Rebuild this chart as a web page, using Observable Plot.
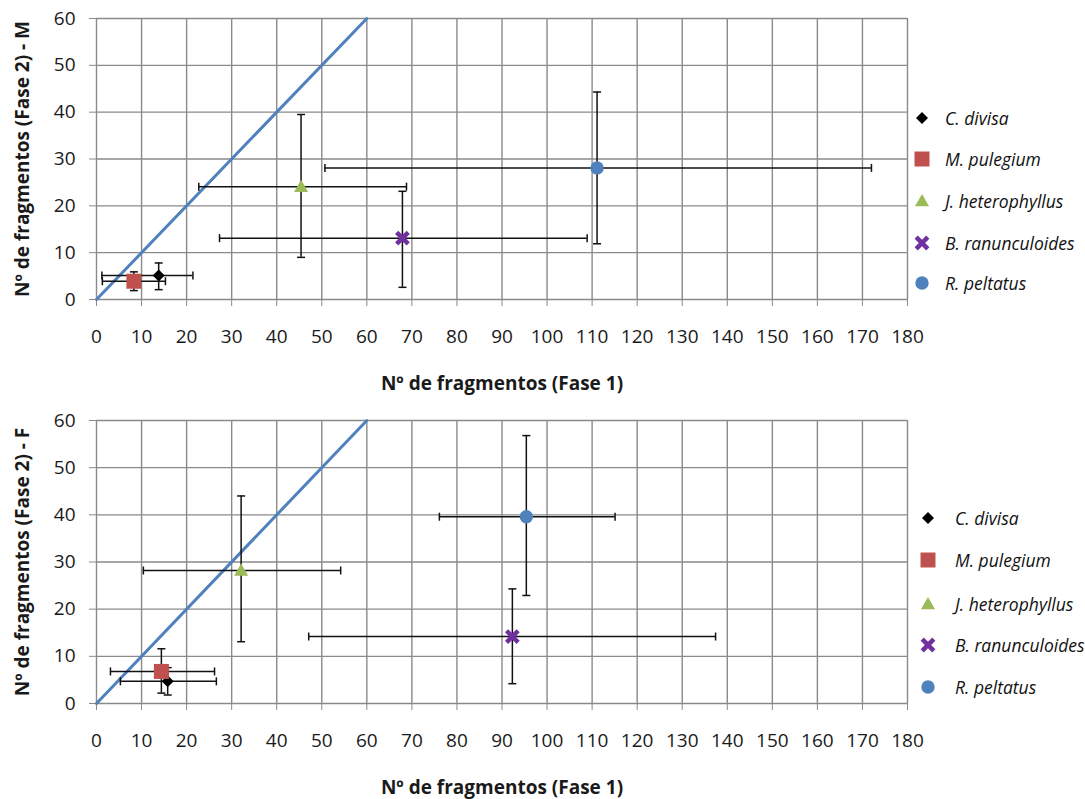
<!DOCTYPE html>
<html>
<head>
<meta charset="utf-8">
<script src="https://cdn.jsdelivr.net/npm/d3@7"></script>
<script src="https://cdn.jsdelivr.net/npm/@observablehq/plot@0.6"></script>
<style>
  html, body { margin: 0; padding: 0; background: #fff; }
  #wrap { position: relative; width: 1085px; height: 799px; overflow: hidden; font-family: "Open Sans", sans-serif; }
  .panel { position: absolute; left: 0; }
  .legend { position: absolute; font-style: italic; font-size: 17.5px; color: #111; white-space: nowrap; }
  .legend .item { position: absolute; left: 0; height: 24px; display: flex; align-items: center; }
  .legend svg { flex: none; }
</style>
</head>
<body>
<div id="wrap"></div>
<script>
// ---- data ----
const species = ["C. divisa", "M. pulegium", "J. heterophyllus", "B. ranunculoides", "R. peltatus"];
const colors = ["#000000", "#C0504D", "#9BBB59", "#7030A0", "#4F81BD"];

// Panel M (top)
const mX    = [13.8, 8.3, 45.4, 67.9, 111.1];
const mY    = [5.1, 3.9, 24.1, 13.1, 28.1];
const mXlo  = [1.2, 1.3, 22.7, 27.3, 50.7];
const mXhi  = [21.4, 15.3, 68.8, 108.9, 172.0];
const mYlo  = [2.1, 1.9, 9.0, 2.6, 11.9];
const mYhi  = [7.8, 5.9, 39.5, 23.1, 44.3];

// Panel F (bottom)
const fX    = [15.8, 14.4, 32.1, 92.3, 95.4];
const fY    = [4.7, 6.8, 28.2, 14.2, 39.6];
const fXlo  = [5.3, 3.1, 10.4, 47.1, 76.1];
const fXhi  = [26.6, 26.2, 54.2, 137.4, 115.1];
const fYlo  = [1.8, 2.2, 13.1, 4.2, 22.9];
const fYhi  = [7.6, 11.6, 44.0, 24.3, 56.8];

// 1:1 reference line
const lineX = [0, 60];
const lineY = [0, 60];

const xTicks = [0,10,20,30,40,50,60,70,80,90,100,110,120,130,140,150,160,170,180];
const yTicks = [0,10,20,30,40,50,60];
const xLabel = "Nº de fragmentos (Fase 1)";
const yLabelM = "Nº de fragmentos (Fase 2) - M";
const yLabelF = "Nº de fragmentos (Fase 2) - F";

// ---- symbols ----
const capV = { draw(ctx, size) { const r = Math.sqrt(size / Math.PI); ctx.moveTo(0, -r); ctx.lineTo(0, r); } };
const capH = { draw(ctx, size) { const r = Math.sqrt(size / Math.PI); ctx.moveTo(-r, 0); ctx.lineTo(r, 0); } };
const diamond = { draw(ctx, size) { const r = Math.sqrt(size / Math.PI); ctx.moveTo(0, -r); ctx.lineTo(r, 0); ctx.lineTo(0, r); ctx.lineTo(-r, 0); ctx.closePath(); } };
const square = { draw(ctx, size) { const r = Math.sqrt(size / Math.PI); ctx.rect(-r, -r, 2 * r, 2 * r); } };
const triangle = { draw(ctx, size) { const r = Math.sqrt(size / Math.PI); ctx.moveTo(0, -r); ctx.lineTo(r, r * 0.75); ctx.lineTo(-r, r * 0.75); ctx.closePath(); } };
const cross = { draw(ctx, size) { const r = Math.sqrt(size / Math.PI); ctx.moveTo(-r, -r); ctx.lineTo(r, r); ctx.moveTo(r, -r); ctx.lineTo(-r, r); } };
const circle = { draw(ctx, size) { const r = Math.sqrt(size / Math.PI); ctx.moveTo(r, 0); ctx.arc(0, 0, r, 0, 2 * Math.PI); } };
const symbols = [diamond, square, triangle, cross, circle];
const radii = [6, 7.5, 7, 5.8, 6.7];

function rows(X, Y, Xlo, Xhi, Ylo, Yhi) {
  return species.map((s, i) => ({ s, i, x: X[i], y: Y[i], xlo: Xlo[i], xhi: Xhi[i], ylo: Ylo[i], yhi: Yhi[i] }));
}

function panel(data, yLabel, marginTop, plotH, marginBottom) {
  const markerMarks = species.map((s, i) => {
    const sub = data.filter(d => d.i === i);
    if (i === 3) {
      return Plot.dot(sub, { x: "x", y: "y", symbol: () => symbols[i], r: radii[i], stroke: colors[i], strokeWidth: 4.5, fill: "none" });
    }
    return Plot.dot(sub, { x: "x", y: "y", symbol: () => symbols[i], r: radii[i], fill: colors[i], stroke: "none" });
  });
  return Plot.plot({
    width: 930,
    height: marginTop + plotH + marginBottom,
    marginTop, marginBottom,
    marginLeft: 96, marginRight: 23,
    style: { fontFamily: "Open Sans, sans-serif", fontSize: "19px", color: "#1a1a1a", background: "white", overflow: "visible" },
    x: { domain: [0, 180] },
    y: { domain: [0, 60] },
    marks: [
      Plot.gridX(xTicks, { stroke: "#8a8a8a", strokeOpacity: 1, strokeWidth: 1.4 }),
      Plot.gridY(yTicks, { stroke: "#8a8a8a", strokeOpacity: 1, strokeWidth: 1.4 }),
      Plot.axisX(xTicks, { tickSize: 7, tickPadding: 23, stroke: "#8a8a8a", label: null, fontSize: 19 }),
      Plot.axisY(yTicks, { tickSize: 7, tickPadding: 14, stroke: "#8a8a8a", label: null, fontSize: 19 }),
      Plot.text([xLabel], { frameAnchor: "bottom", dy: 84, fontWeight: "bold", fontSize: 19, textAnchor: "middle", lineAnchor: "middle" }),
      Plot.text([yLabel], { frameAnchor: "left", dx: -74, rotate: -90, fontWeight: "bold", fontSize: 19, textAnchor: "middle", lineAnchor: "middle" }),
      Plot.line(lineX.map((x, i) => ({ x, y: lineY[i] })), { x: "x", y: "y", stroke: "#4F81BD", strokeWidth: 3 }),
      Plot.ruleY(data, { y: "y", x1: "xlo", x2: "xhi", stroke: "#111", strokeWidth: 1.5 }),
      Plot.ruleX(data, { x: "x", y1: "ylo", y2: "yhi", stroke: "#111", strokeWidth: 1.5 }),
      Plot.dot(data, { x: "xlo", y: "y", symbol: () => capV, r: 4, stroke: "#111", strokeWidth: 1.5 }),
      Plot.dot(data, { x: "xhi", y: "y", symbol: () => capV, r: 4, stroke: "#111", strokeWidth: 1.5 }),
      Plot.dot(data, { x: "x", y: "ylo", symbol: () => capH, r: 4, stroke: "#111", strokeWidth: 1.5 }),
      Plot.dot(data, { x: "x", y: "yhi", symbol: () => capH, r: 4, stroke: "#111", strokeWidth: 1.5 }),
      ...markerMarks
    ]
  });
}

function legend(left, top, textLeft, ys) {
  const div = document.createElement("div");
  div.className = "legend";
  div.style.left = left + "px";
  div.style.top = top + "px";
  species.forEach((s, i) => {
    const item = document.createElement("div");
    item.className = "item";
    item.style.top = (ys[i] - 12) + "px";
    const svg = d3.create("svg").attr("width", textLeft).attr("height", 24);
    const r = radii[i];
    const p = svg.append("path")
      .attr("transform", "translate(10,12)")
      .attr("d", d3.symbol(symbols[i], Math.PI * r * r)());
    if (i === 3) p.attr("fill", "none").attr("stroke", colors[i]).attr("stroke-width", 4.5);
    else p.attr("fill", colors[i]);
    item.appendChild(svg.node());
    const t = document.createElement("span");
    t.textContent = s;
    item.appendChild(t);
    div.appendChild(item);
  });
  return div;
}

const wrap = document.getElementById("wrap");
const top1 = panel(rows(mX, mY, mXlo, mXhi, mYlo, mYhi), yLabelM, 18, 281, 100);
top1.classList.add("panel"); top1.style.top = "0px";
wrap.appendChild(top1);
const bot = panel(rows(fX, fY, fXlo, fXhi, fYlo, fYhi), yLabelF, 20, 283, 96);
bot.classList.add("panel"); bot.style.top = "400px";
wrap.appendChild(bot);

wrap.appendChild(legend(912, 0, 33, [118, 159, 201, 243, 283]));
wrap.appendChild(legend(918, 400, 37, [118, 160, 204, 245, 287]));
</script>
</body>
</html>
